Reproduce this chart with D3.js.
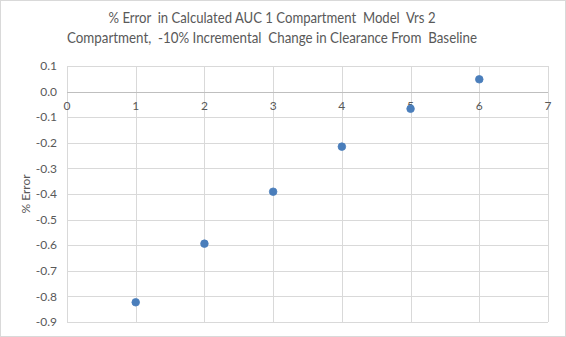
<!DOCTYPE html>
<html>
<head>
<meta charset="utf-8">
<script src="https://cdn.jsdelivr.net/npm/d3@7"></script>
<style>
  html, body { margin: 0; padding: 0; background: #fff; }
  svg { display: block; font-family: Lato, "Open Sans", sans-serif; }
</style>
</head>
<body>
<svg id="chart" width="566" height="337"></svg>
<script>
// Steps of -10% clearance change and resulting % error in AUC
const steps = [1, 2, 3, 4, 5, 6];
const errorValues = [-0.823, -0.594, -0.391, -0.215, -0.067, 0.048];
const xTicks = [0, 1, 2, 3, 4, 5, 6, 7];
const yTicks = [0.1, 0.0, -0.1, -0.2, -0.3, -0.4, -0.5, -0.6, -0.7, -0.8, -0.9];
const titleLines = [
  "% Error  in Calculated AUC 1 Compartment  Model  Vrs 2",
  "Compartment,  -10% Incremental  Change in Clearance From  Baseline"
];
const titleWidths = [327, 410];
const yLabel = "% Error";

const W = 566, H = 337;
const plot = { left: 67, right: 548, top: 66, bottom: 322 };

const svg = d3.select("#chart");

// chart frame
svg.append("rect")
  .attr("x", 0.5).attr("y", 0.5)
  .attr("width", W - 1).attr("height", H - 1)
  .attr("fill", "#fff").attr("stroke", "#d9d9d9");

const x = d3.scaleLinear().domain([0, 7]).range([plot.left, plot.right]);
const y = d3.scaleLinear().domain([-0.9, 0.1]).range([plot.bottom, plot.top]);

// horizontal gridlines
svg.append("g")
  .selectAll("line")
  .data(yTicks)
  .join("line")
  .attr("x1", plot.left).attr("x2", plot.right)
  .attr("y1", d => Math.round(y(d)) + 0.5).attr("y2", d => Math.round(y(d)) + 0.5)
  .attr("stroke", "#d9d9d9").attr("stroke-width", 1);

// vertical gridlines
svg.append("g")
  .selectAll("line")
  .data(xTicks)
  .join("line")
  .attr("x1", d => Math.round(x(d)) + 0.5).attr("x2", d => Math.round(x(d)) + 0.5)
  .attr("y1", plot.top).attr("y2", plot.bottom)
  .attr("stroke", "#d9d9d9").attr("stroke-width", 1);

// horizontal axis through zero
svg.append("line")
  .attr("x1", plot.left).attr("x2", plot.right)
  .attr("y1", Math.round(y(0)) + 0.5).attr("y2", Math.round(y(0)) + 0.5)
  .attr("stroke", "#bfbfbf").attr("stroke-width", 1);

// y tick labels
svg.append("g")
  .selectAll("text")
  .data(yTicks)
  .join("text")
  .attr("x", plot.left - 10)
  .attr("y", d => y(d))
  .attr("dy", "0.35em")
  .attr("text-anchor", "end")
  .attr("font-size", 12)
  .attr("fill", "#595959")
  .text(d => d3.format(".1f")(d).replace("−", "-"));

// x tick labels, just below the zero line
svg.append("g")
  .selectAll("text")
  .data(xTicks)
  .join("text")
  .attr("x", d => x(d))
  .attr("y", y(0) + 14)
  .attr("dy", "0.35em")
  .attr("text-anchor", "middle")
  .attr("font-size", 12)
  .attr("fill", "#595959")
  .text(d => d);

// data points
svg.append("g")
  .selectAll("circle")
  .data(steps.map((s, i) => [s, errorValues[i]]))
  .join("circle")
  .attr("cx", d => x(d[0]))
  .attr("cy", d => y(d[1]))
  .attr("r", 3.8)
  .attr("fill", "#4a7ebb")
  .attr("stroke", "#4a7ebb")
  .attr("stroke-width", 0.8);

// title
svg.append("g")
  .selectAll("text")
  .data(titleLines)
  .join("text")
  .attr("x", 272)
  .attr("y", (d, i) => 18 + i * 20)
  .attr("dy", "0.35em")
  .attr("text-anchor", "middle")
  .attr("font-size", 14.7)
  .attr("fill", "#595959")
  .attr("textLength", (d, i) => titleWidths[i])
  .attr("lengthAdjust", "spacingAndGlyphs")
  .style("white-space", "pre")
  .text(d => d);

// y axis title
svg.append("text")
  .attr("transform", `translate(26,${(plot.top + plot.bottom) / 2}) rotate(-90)`)
  .attr("dy", "0.35em")
  .attr("text-anchor", "middle")
  .attr("font-size", 12)
  .attr("fill", "#595959")
  .text(yLabel);
</script>
</body>
</html>
